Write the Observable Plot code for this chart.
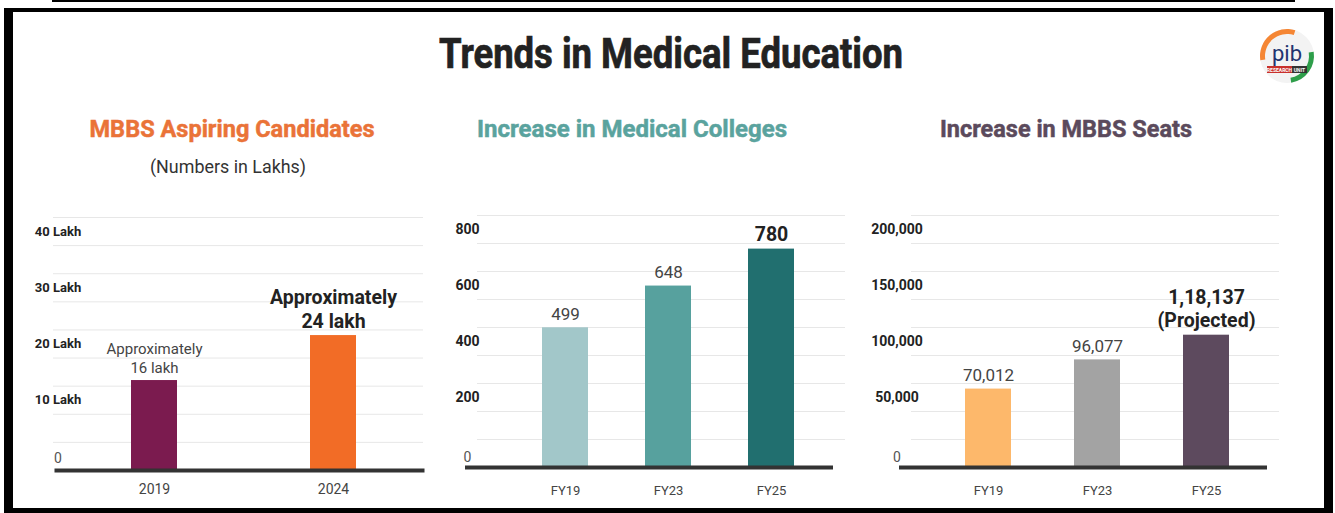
<!DOCTYPE html>
<html><head><meta charset="utf-8">
<script src="https://cdn.jsdelivr.net/npm/d3@7"></script>
<script src="https://cdn.jsdelivr.net/npm/@observablehq/plot@0.6"></script>
<style>
html,body{margin:0;padding:0;background:#fff;}
body{width:1335px;height:513px;position:relative;overflow:hidden;font-family:Roboto,sans-serif;}
.frame{position:absolute;left:4px;top:8px;width:1329px;height:505px;box-sizing:border-box;border-style:solid;border-color:#000;border-width:4px 9px 5px 9px;z-index:10;pointer-events:none;}
.topline{position:absolute;left:52px;top:0;width:1243px;height:2px;background:#000;}
.panel{position:absolute;top:190px;}
#header{position:absolute;left:0;top:0;}
</style></head><body>
<div class="topline"></div>
<svg id="header" width="1335" height="190"></svg>
<div class="panel" id="p1" style="left:0px"></div>
<div class="panel" id="p2" style="left:440px"></div>
<div class="panel" id="p3" style="left:860px"></div>
<div class="frame"></div>
<script>
// ---------- DATA ----------
// Panel 1: MBBS aspiring candidates (lakh)
const candYears = ["2019", "2024"];
const candLakh = [16, 24];
const candTicks = [0, 10, 20, 30, 40];
const candGrid = [5, 10, 15, 20, 25, 30, 35, 40, 45];
const candPalette = ["#7B1B4F", "#F26C26"];

// Panel 2: Medical colleges
const collegeYears = ["FY19", "FY23", "FY25"];
const collegeCounts = [499, 648, 780];
const collegeTicks = [0, 200, 400, 600, 800];
const collegeGrid = [100, 200, 300, 400, 500, 600, 700, 800, 900];
const collegePalette = ["#A2C7C9", "#57A19E", "#216F6F"];

// Panel 3: MBBS seats
const seatYears = ["FY19", "FY23", "FY25"];
const seatCounts = [70012, 96077, 118137];
const seatNotes = ["", "", "(Projected)"];
const seatTicks = [0, 50000, 100000, 150000, 200000];
const seatGrid = [25000, 50000, 75000, 100000, 125000, 150000, 175000, 200000, 225000];
const seatPalette = ["#FDB86B", "#A3A3A3", "#5D4A5E"];

// ---------- TEXT ----------
const mainTitle = "Trends in Medical Education";
const panelTitles = ["MBBS Aspiring Candidates", "Increase in Medical Colleges", "Increase in MBBS Seats"];
const panelSubtitle = "(Numbers in Lakhs)";

const FONT = 'Roboto, "Noto Sans", sans-serif';
const inr = new Intl.NumberFormat("en-IN");
const usf = new Intl.NumberFormat("en-US");

// ---------- HEADER ----------
const header = d3.select("#header");
function title(txt, cx, base, len, size, fill, weight, sw) {
  header.append("text").text(txt)
    .attr("x", cx).attr("y", base).attr("text-anchor", "middle")
    .attr("textLength", len).attr("lengthAdjust", "spacingAndGlyphs")
    .attr("font-family", FONT).attr("font-size", size).attr("font-weight", weight).attr("fill", fill)
    .attr("stroke", sw ? fill : "none").attr("stroke-width", sw || 0);
}
title(mainTitle, 671, 68, 464, 42, "#222", "bold", 0.7);
title(panelTitles[0], 232, 137, 285, 24, "#EA7338", "bold", 0.5);
title(panelSubtitle, 228, 173, 156, 19, "#333", "normal", 0);
title(panelTitles[1], 632, 137, 310, 24, "#5AA39E", "bold", 0.5);
title(panelTitles[2], 1066, 137, 252, 24, "#5B4A5C", "bold", 0.5);

// logo
const lg = header.append("g").attr("transform", "translate(1287,56)");
lg.append("circle").attr("r", 27).attr("fill", "#f3f3f3");
const arc = d3.arc();
lg.append("path").attr("d", arc({innerRadius: 22, outerRadius: 27, startAngle: -Math.PI * 0.55, endAngle: Math.PI * 0.1})).attr("fill", "#F58634");
lg.append("path").attr("d", arc({innerRadius: 22, outerRadius: 27, startAngle: Math.PI * 0.45, endAngle: Math.PI * 0.95})).attr("fill", "#2E9E4A");
lg.append("text").text("pib").attr("text-anchor", "middle").attr("y", 5).attr("font-family", FONT)
  .attr("font-size", 22).attr("fill", "#233470");
lg.append("rect").attr("x", -20).attr("y", 10).attr("width", 25).attr("height", 7).attr("fill", "#C8302C");
lg.append("rect").attr("x", 5).attr("y", 10).attr("width", 15).attr("height", 7).attr("fill", "#333");
lg.append("text").text("RESEARCH").attr("x", -7.5).attr("y", 15.5).attr("text-anchor", "middle").attr("font-family", FONT)
  .attr("font-size", 5).attr("font-weight", "bold").attr("fill", "#fff");
lg.append("text").text("UNIT").attr("x", 12.5).attr("y", 15.5).attr("text-anchor", "middle").attr("font-family", FONT)
  .attr("font-size", 5).attr("font-weight", "bold").attr("fill", "#fff");

// ---------- PANELS ----------
function panel(el, o) {
  const data = o.years.map((year, i) => ({year, value: o.values[i], i}));
  const last = data.length - 1;
  const chart = Plot.plot({
    width: o.width, height: o.height,
    marginTop: o.mt, marginBottom: o.mb, marginLeft: o.ml, marginRight: o.mr,
    style: {fontFamily: FONT, fontSize: o.xFont + "px", color: "#444", background: "transparent", overflow: "visible"},
    x: {domain: o.years, range: o.xRange, paddingInner: o.pInner, paddingOuter: o.pInner / 2, align: 0.5, label: null},
    y: {domain: [0, o.yMax], axis: null},
    color: {domain: o.years, range: o.palette},
    marks: [
      Plot.ruleY(o.grid, {stroke: "#e7e7e7", strokeWidth: 1}),
      Plot.barY(data, {x: "year", y: "value", fill: "year"}),
      Plot.ruleY([0], {stroke: "#333", strokeWidth: 4, dx: o.baseDx}),
      Plot.axisX({tickSize: 0, tickPadding: o.xPad, fill: "#444", label: null}),
      Plot.text(o.ticks.filter(t => t > 0), {y: d => d, frameAnchor: "left", dx: o.tickDx, dy: -14,
        text: o.tickFmt, textAnchor: "middle", fontWeight: "bold", fontSize: o.tickFont, fill: "#222"}),
      Plot.text(o.ticks.filter(t => t === 0), {y: d => d, frameAnchor: "left", dx: o.tickDx, dy: o.zeroDy,
        text: d => String(d), textAnchor: "middle", fontSize: 14, fill: "#555"}),
      Plot.text(data.filter(d => d.i < last), {x: "year", y: "value", text: o.labelFmt, lineAnchor: "bottom",
        dy: -8, fontSize: o.labelFont, lineHeight: 1.25, fill: "#444"}),
      Plot.text(data.filter(d => d.i === last), {x: "year", y: "value", text: o.labelFmt, lineAnchor: "bottom",
        dy: -8, fontSize: 19.5, lineHeight: 1.2, fontWeight: "bold", fill: "#222"})
    ]
  });
  document.getElementById(el).appendChild(chart);
}

panel("p1", {
  years: candYears, values: candLakh, palette: candPalette, ticks: candTicks, grid: candGrid, yMax: 45,
  width: 440, height: 315, mt: 27, mb: 35, ml: 53, mr: 17,
  xRange: [64.5, 422.5], pInner: 0.743, tickDx: 4.5, zeroDy: -12, baseDx: 1.5, xPad: 14, xFont: 14,
  tickFont: 13, labelFont: 15,
  tickFmt: d => d + " Lakh",
  labelFmt: d => "Approximately\n" + d.value + " lakh"
});

panel("p2", {
  years: collegeYears, values: collegeCounts, palette: collegePalette, ticks: collegeTicks, grid: collegeGrid, yMax: 900,
  width: 420, height: 315, mt: 25, mb: 38, ml: 37, mr: 15,
  xRange: [73.5, 382.5], pInner: 0.553, tickDx: -10, zeroDy: -10, baseDx: -12, xPad: 18, xFont: 13,
  tickFont: 14, labelFont: 17,
  tickFmt: d => String(d),
  labelFmt: d => String(d.value)
});

panel("p3", {
  years: seatYears, values: seatCounts, palette: seatPalette, ticks: seatTicks, grid: seatGrid, yMax: 225000,
  width: 460, height: 315, mt: 25, mb: 38, ml: 51, mr: 41,
  xRange: [73.2, 400.2], pInner: 0.578, tickDx: -14.5, zeroDy: -10, baseDx: -12, xPad: 18, xFont: 13,
  tickFont: 14, labelFont: 17,
  tickFmt: d => usf.format(d),
  labelFmt: d => inr.format(d.value) + (seatNotes[d.i] ? "\n" + seatNotes[d.i] : "")
});
</script>
</body></html>
